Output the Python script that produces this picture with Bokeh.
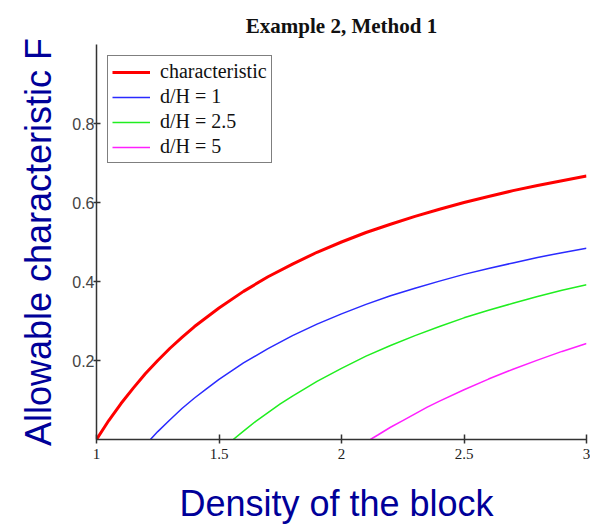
from bokeh.plotting import figure
from bokeh.models import FixedTicker, Legend, LegendItem
from bokeh.embed import file_html
from bokeh.resources import INLINE

# Data
x_char = [1.0, 1.05, 1.1, 1.15, 1.2, 1.25, 1.3, 1.35, 1.4, 1.5, 1.6, 1.7, 1.8, 1.9, 2.0,
          2.1, 2.2, 2.3, 2.4, 2.5, 2.6, 2.7, 2.8, 2.9, 3.0]
f_char = [0.0, 0.048, 0.091, 0.130, 0.167, 0.2, 0.231, 0.259, 0.286, 0.333, 0.375, 0.412,
          0.444, 0.474, 0.5, 0.524, 0.545, 0.565, 0.583, 0.6, 0.615, 0.63, 0.643, 0.655, 0.667]

x_d1 = [1.22, 1.25, 1.3, 1.35, 1.4, 1.45, 1.5, 1.6, 1.7, 1.8, 1.9, 2.0, 2.1, 2.2,
        2.3, 2.4, 2.5, 2.6, 2.7, 2.8, 2.9, 3.0]
f_d1 = [0.0, 0.02, 0.05, 0.079, 0.105, 0.129, 0.152, 0.194, 0.23, 0.263, 0.292, 0.318,
        0.342, 0.364, 0.383, 0.401, 0.418, 0.433, 0.447, 0.461, 0.473, 0.484]

x_d25 = [1.558, 1.6, 1.65, 1.7, 1.75, 1.8, 1.9, 2.0, 2.1, 2.2, 2.3, 2.4, 2.5,
         2.6, 2.7, 2.8, 2.9, 3.0]
f_d25 = [0.0, 0.021, 0.046, 0.068, 0.09, 0.11, 0.147, 0.18, 0.211, 0.238, 0.263, 0.286,
         0.308, 0.327, 0.345, 0.362, 0.378, 0.392]

x_d5 = [2.118, 2.15, 2.2, 2.25, 2.3, 2.35, 2.4, 2.5, 2.6, 2.7, 2.8, 2.9, 3.0]
f_d5 = [0.0, 0.012, 0.031, 0.048, 0.065, 0.082, 0.097, 0.126, 0.153, 0.178, 0.201,
        0.223, 0.243]

x_ticks = [1, 1.5, 2, 2.5, 3]
y_ticks = [0.2, 0.4, 0.6, 0.8]
labels = ["characteristic", "d/H = 1", "d/H = 2.5", "d/H = 5"]
title_text = "Example 2, Method 1"

p = figure(width=590, height=527, output_backend="svg", toolbar_location=None,
           x_range=(1, 3), y_range=(0, 1.0),
           min_border_left=96, min_border_right=4, min_border_top=44,
           min_border_bottom=88, title=title_text)
p.outline_line_color = None
p.xgrid.visible = False
p.ygrid.visible = False
p.background_fill_color = "white"

p.title.text_font = "Liberation Serif"
p.title.text_font_size = "21px"
p.title.text_font_style = "bold"
p.title.align = "center"
p.title.vertical_align = "middle"
p.title.text_color = "#111111"
p.title.standoff = 12

r1 = p.line(x_char, f_char, line_color="#ff0000", line_width=3)
r2 = p.line(x_d1, f_d1, line_color="#2a2aff", line_width=1.5)
r3 = p.line(x_d25, f_d25, line_color="#20ee20", line_width=1.5)
r4 = p.line(x_d5, f_d5, line_color="#ff20ff", line_width=1.5)

legend = Legend(items=[LegendItem(label=labels[0], renderers=[r1]),
                       LegendItem(label=labels[1], renderers=[r2]),
                       LegendItem(label=labels[2], renderers=[r3]),
                       LegendItem(label=labels[3], renderers=[r4])],
                location="top_left", margin=11, padding=4, spacing=2,
                label_height=20, glyph_height=20, glyph_width=38,
                label_standoff=10,
                label_text_font="Liberation Serif", label_text_font_size="20px",
                label_text_color="#111111",
                border_line_color="#000000", border_line_width=1,
                background_fill_color="white", background_fill_alpha=1.0)
p.add_layout(legend, "center")

axis_col = "#333333"
label_col = "#000099"

p.xaxis.ticker = FixedTicker(ticks=x_ticks)
p.xaxis.axis_line_color = axis_col
p.xaxis.axis_line_width = 1.5
p.xaxis.major_tick_line_color = axis_col
p.xaxis.major_tick_line_width = 1.5
p.xaxis.major_tick_in = 5
p.xaxis.major_tick_out = 4
p.xaxis.minor_tick_line_color = None
p.xaxis.major_label_text_font = "Liberation Serif"
p.xaxis.major_label_text_font_size = "15px"
p.xaxis.major_label_text_color = "#222222"
p.xaxis.major_label_standoff = 5
p.xaxis.axis_label = "Density of the block\u00a0"
p.xaxis.axis_label_text_font = "Liberation Sans"
p.xaxis.axis_label_text_font_size = "36px"
p.xaxis.axis_label_text_font_style = "normal"
p.xaxis.axis_label_text_color = label_col
p.xaxis.axis_label_standoff = 21

p.yaxis.ticker = FixedTicker(ticks=y_ticks)
p.yaxis.axis_line_color = axis_col
p.yaxis.axis_line_width = 1.5
p.yaxis.major_tick_line_color = axis_col
p.yaxis.major_tick_line_width = 1.5
p.yaxis.major_tick_in = 4
p.yaxis.major_tick_out = 3
p.yaxis.minor_tick_line_color = None
p.yaxis.major_label_text_font = "Liberation Sans"
p.yaxis.major_label_text_font_size = "16px"
p.yaxis.major_label_text_color = "#444444"
p.yaxis.major_label_standoff = -1
p.yaxis.axis_label = "Allowable characteristic F"
p.yaxis.axis_label_text_font = "Liberation Sans"
p.yaxis.axis_label_text_font_size = "36px"
p.yaxis.axis_label_text_font_style = "normal"
p.yaxis.axis_label_text_color = label_col
p.yaxis.axis_label_standoff = 10

open("out.html", "w").write(file_html(p, INLINE))
